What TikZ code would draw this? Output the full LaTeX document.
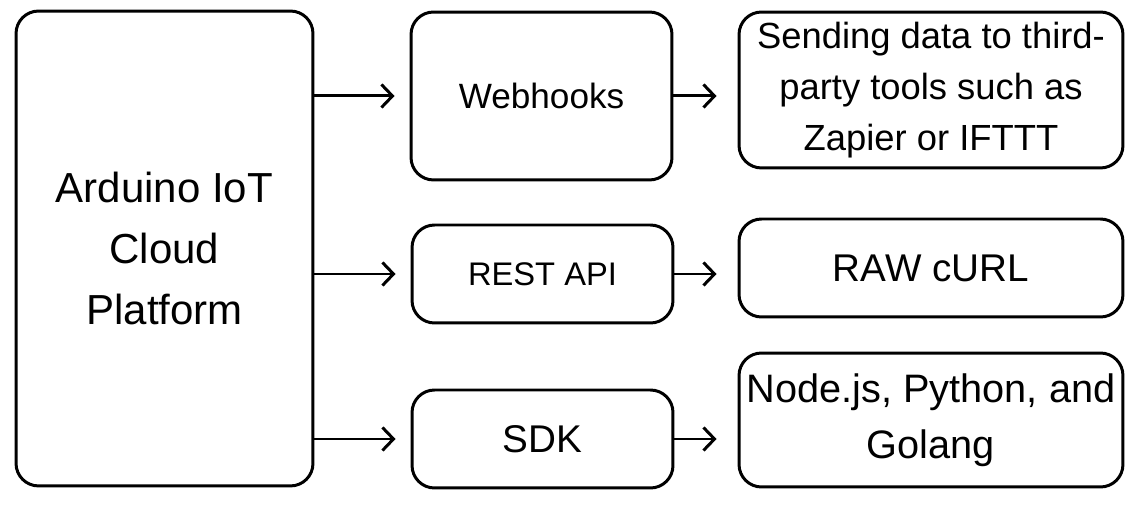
\documentclass[tikz,border=0pt]{standalone}
\usepackage{fontspec}
\setmainfont{Liberation Sans}
\usetikzlibrary{positioning,arrows.meta}

\begin{document}
\begin{tikzpicture}[x=0.02cm,y=-0.02cm,
        box/.style={draw, line width=1.7pt, rounded corners=0.45cm, align=center, inner sep=2pt},
        link/.style={line width=1.7pt, -{Straight Barb[length=0.22cm,width=0.46cm]}}]
        \useasboundingbox (0,0) rectangle (1133,519);
        % platform on the left
        \node[box, minimum width=5.94cm, minimum height=9.5cm, font={\fontsize{23.9}{34.7}\selectfont}] (cloud) at (164.5,248.5) {Arduino IoT\\Cloud\\Platform};
        % middle column
        \node[box, minimum width=5.22cm, minimum height=3.36cm, font={\fontsize{20}{24}\selectfont}] (web) at (541.5,96) {Webhooks};
        \node[box, minimum width=5.22cm, minimum height=1.96cm, font={\fontsize{18.6}{22}\selectfont}] (rest) at (542.5,274) {REST API};
        \node[box, minimum width=5.22cm, minimum height=1.96cm, font={\fontsize{22}{26}\selectfont}] (sdk) at (542.5,439) {SDK};
        % right column
        \node[box, minimum width=7.68cm, minimum height=3.12cm, font={\fontsize{20.7}{29}\selectfont}] (tools) at (931,90) {Sending data to third-\\party tools such as\\Zapier or IFTTT};
        \node[box, minimum width=7.68cm, minimum height=1.96cm, font={\fontsize{22}{26}\selectfont}] (curl) at (931,268) {RAW cURL};
        \node[box, minimum width=7.68cm, minimum height=2.68cm, font={\fontsize{22.6}{31.9}\selectfont}] (lang) at (931,420) {Node.js, Python, and\\Golang};
        % arrows
        \draw[link, shorten >=0.3cm] (cloud.east |- web.west) -- (web.west);
        \draw[link, shorten >=0.3cm] (cloud.east |- rest.west) -- (rest.west);
        \draw[link, shorten >=0.3cm] (cloud.east |- sdk.west) -- (sdk.west);
        \draw[link, shorten >=0.42cm] (web.east) -- (web.east -| tools.west);
        \draw[link, shorten >=0.42cm] (rest.east) -- (rest.east -| curl.west);
        \draw[link, shorten >=0.42cm] (sdk.east) -- (sdk.east -| lang.west);
\end{tikzpicture}
\end{document}
